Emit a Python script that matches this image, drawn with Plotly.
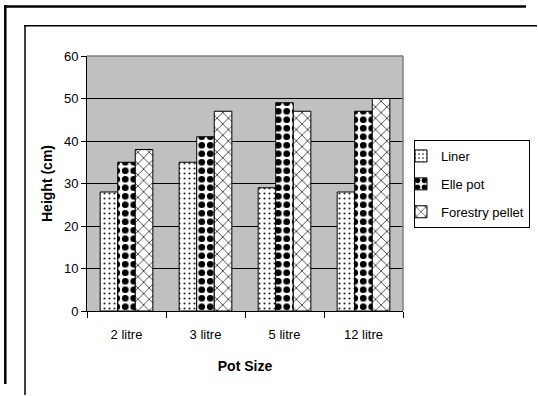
import plotly.graph_objects as go

# Plant height by pot size for three container types
pot_sizes = ["2 litre", "3 litre", "5 litre", "12 litre"]
liner = [28, 35, 29, 28]
elle_pot = [35, 41, 49, 47]
forestry_pellet = [38, 47, 47, 50]

y_ticks = [0, 10, 20, 30, 40, 50, 60]

FONT = "Liberation Sans, Arial, sans-serif"

# Plot area geometry in pixels (used for the decorative frames)
W, H = 538, 396
L, R, T, B = 87, 135, 56, 85
PW, PH = W - L - R, H - T - B


def px_x(px):
    return (px - L) / PW


def px_y(py):
    return (H - B - py) / PH


series = [
    ("Liner", liner,
     dict(shape=".", fgcolor="#222222", bgcolor="white", size=5, solidity=0.14, fgopacity=1)),
    ("Elle pot", elle_pot,
     dict(shape=".", fgcolor="black", bgcolor="white", size=8.5, solidity=0.5, fgopacity=1)),
    ("Forestry pellet", forestry_pellet,
     dict(shape="x", fgcolor="#333333", bgcolor="white", size=8, solidity=0.2, fgopacity=1)),
]

fig = go.Figure()
for name, values, pattern in series:
    fig.add_trace(go.Bar(
        x=pot_sizes,
        y=values,
        name=name,
        legendgroup=name,
        marker=dict(color="white", line=dict(color="black", width=1), pattern=pattern),
    ))


def hline(py, x0, x1, color, width):
    return dict(type="line", xref="paper", yref="paper",
                x0=px_x(x0), x1=px_x(x1), y0=px_y(py), y1=px_y(py),
                line=dict(color=color, width=width), layer="above")


def vline(px, y0, y1, color, width):
    return dict(type="line", xref="paper", yref="paper",
                x0=px_x(px), x1=px_x(px), y0=px_y(y0), y1=px_y(y1),
                line=dict(color=color, width=width), layer="above")


shapes = [
    # outer frame (left and top edges)
    vline(5.3, 5.3, H - 12, "black", 2.5),
    hline(6.5, 4.1, W - 12, "black", 2.5),
    # inner frame
    vline(25, 25, H - 1, "black", 1.5),
    hline(25.8, 24.3, W - 1, "black", 1.5),
    # gray top and right borders of the plot area
    dict(type="line", xref="paper", yref="paper", x0=0, x1=1, y0=1, y1=1,
         line=dict(color="#808080", width=1.5), layer="above"),
    dict(type="line", xref="paper", yref="paper", x0=1, x1=1, y0=0, y1=1,
         line=dict(color="#808080", width=1.5), layer="above"),
]

fig.update_layout(
    width=W, height=H,
    margin=dict(l=L, r=R, t=T, b=B, autoexpand=False),
    paper_bgcolor="white",
    plot_bgcolor="#C0C0C0",
    barmode="group",
    bargap=0.333,
    bargroupgap=0,
    font=dict(family=FONT, size=13, color="black"),
    showlegend=True,
    legend=dict(
        x=px_x(414), y=px_y(140), xanchor="left", yanchor="top",
        bgcolor="white", bordercolor="black", borderwidth=1,
        font=dict(family=FONT, size=13, color="black"),
        traceorder="grouped", tracegroupgap=8, indentation=-14,
    ),
    shapes=shapes,
    xaxis=dict(
        title=dict(text="<b>Pot Size</b>", font=dict(family=FONT, size=14), standoff=20),
        showline=True, linecolor="black", linewidth=1,
        ticks="outside", ticklen=6, tickcolor="black", tickson="boundaries",
        ticklabelstandoff=11,
        showgrid=False, fixedrange=True,
    ),
    yaxis=dict(
        title=dict(text="<b>Height (cm)</b>", font=dict(family=FONT, size=14), standoff=8),
        range=[0, 60], tickvals=y_ticks,
        showline=True, linecolor="black", linewidth=1,
        ticks="outside", ticklen=5, tickcolor="black",
        showgrid=True, gridcolor="black", gridwidth=1,
        zeroline=False, fixedrange=True,
    ),
)

fig.write_html("out.html")
